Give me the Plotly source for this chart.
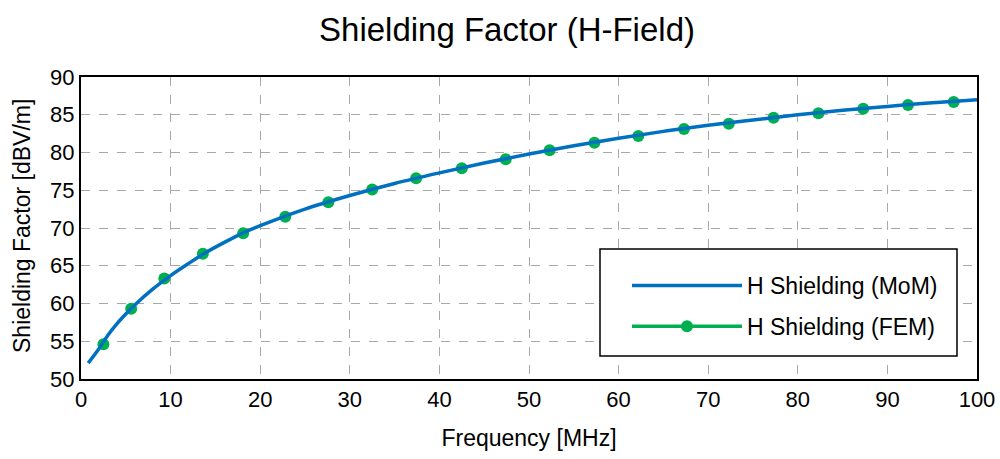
import plotly.graph_objects as go

# FEM samples
fem_freq = [2.5, 5.6, 9.3, 13.6, 18.1, 22.8, 27.6, 32.5, 37.4, 42.5, 47.4,
            52.3, 57.3, 62.2, 67.3, 72.3, 77.3, 82.3, 87.3, 92.3, 97.4]
fem_sf = [54.6, 59.3, 63.3, 66.6, 69.3, 71.5, 73.4, 75.1, 76.6, 77.9, 79.1,
          80.3, 81.3, 82.2, 83.1, 83.8, 84.6, 85.2, 85.8, 86.3, 86.7]

# MoM curve
mom_freq = [0.8, 2, 3, 4, 5, 6, 8, 10, 12, 14, 16, 18, 20, 25, 30, 35, 40, 45,
            50, 55, 60, 65, 70, 75, 80, 85, 90, 95, 100]
mom_sf = [52.1, 54.0, 55.8, 57.3, 58.6, 59.8, 61.9, 63.7, 65.3, 66.8, 68.1,
          69.3, 70.3, 72.5, 74.3, 75.9, 77.3, 78.6, 79.8, 80.9, 81.9, 82.8,
          83.6, 84.3, 85.0, 85.6, 86.1, 86.6, 87.0]

FONT = "Liberation Sans, Arial, sans-serif"

L, R, T, B = 81, 23, 77, 80
PW, PH = 1000 - L - R, 459 - T - B


def px_x(p):
    return (p - L) / PW


def px_y(p):
    return (459 - B - p) / PH


fig = go.Figure()
fig.add_trace(go.Scatter(
    x=fem_freq, y=fem_sf, mode="markers", name="H Shielding (FEM)",
    marker=dict(color="#00b050", size=12),
    showlegend=False,
))
fig.add_trace(go.Scatter(
    x=mom_freq, y=mom_sf, mode="lines", name="H Shielding (MoM)",
    line=dict(color="#0070c0", width=3.5, shape="spline"),
    legendgroup="a",
))
# legend-only entry for FEM (line + marker)
fig.add_trace(go.Scatter(
    x=[None], y=[None], mode="lines+markers", name="H Shielding (FEM)",
    line=dict(color="#00b050", width=3.5),
    marker=dict(color="#00b050", size=12),
    legendgroup="b",
))

# legend frame
fig.add_shape(type="rect", xref="paper", yref="paper",
              x0=px_x(600), x1=px_x(957), y0=px_y(356), y1=px_y(249),
              line=dict(color="black", width=1.5), fillcolor="white",
              layer="above")

# y-axis title
fig.add_annotation(text="Shielding Factor [dBV/m]", xref="paper", yref="paper",
                   x=px_x(22), y=px_y(226), xanchor="center", yanchor="middle",
                   textangle=-90, showarrow=False, font=dict(size=23))

fig.update_layout(
    width=1000, height=459,
    margin=dict(l=L, r=R, t=T, b=B),
    paper_bgcolor="white", plot_bgcolor="white",
    font=dict(family=FONT, color="black"),
    title=dict(text="Shielding Factor (H-Field)", x=0.507, xanchor="center",
               y=0.935, yanchor="middle", font=dict(size=33)),
    legend=dict(x=px_x(627), y=px_y(348), xanchor="left", yanchor="bottom",
                borderwidth=0, bgcolor="rgba(0,0,0,0)",
                font=dict(size=23), itemwidth=110, tracegroupgap=8),
)
fig.update_xaxes(
    range=[0, 100], dtick=10, tick0=0, automargin=False,
    showgrid=True, gridcolor="#a8a8a8", griddash="dash", gridwidth=1,
    showline=True, linecolor="black", linewidth=2, mirror=True,
    ticks="", tickfont=dict(size=22), zeroline=False,
    title=dict(text="Frequency [MHz]", font=dict(size=23), standoff=18),
)
fig.update_yaxes(
    range=[50, 90], dtick=5, tick0=50, automargin=False,
    showgrid=True, gridcolor="#a8a8a8", griddash="dash", gridwidth=1,
    showline=True, linecolor="black", linewidth=2, mirror=True,
    ticks="", tickfont=dict(size=22), zeroline=False,
)

fig.write_html("out.html")
